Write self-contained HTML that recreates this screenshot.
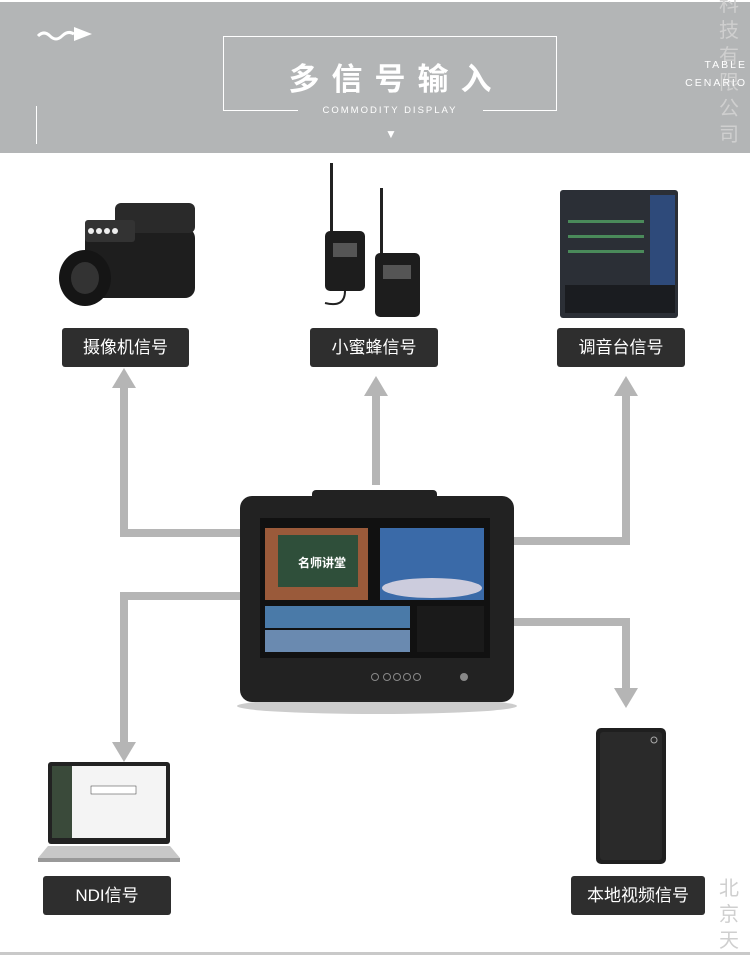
<!DOCTYPE html>
<html><head><meta charset="utf-8"><style>
*{margin:0;padding:0;box-sizing:border-box}
body{width:750px;height:955px;background:#fff;position:relative;overflow:hidden;font-family:"Liberation Sans","Noto Sans CJK SC",sans-serif}
.hdr{position:absolute;left:0;top:2px;width:750px;height:151px;background:#b3b5b6}
.a{position:absolute;background:#b5b5b5}
.lab{position:absolute;height:39px;background:#2e2e2e;color:#fff;font-size:17px;line-height:39px;text-align:center;border-radius:3px}
.wm{position:absolute;color:#cfcfcf;font-size:20px;width:30px;text-align:center}
</style></head><body>
<div class="hdr"></div>
<svg style="position:absolute;left:36px;top:24px" width="60" height="20"><path d="M2 12 Q8 6 14 12 T26 12 T38 10" stroke="#fff" stroke-width="3" fill="none"/><polygon points="38,3 56,10 38,17" fill="#fff"/></svg>
<div style="position:absolute;left:36px;top:106px;width:1px;height:38px;background:#fff"></div>
<div style="position:absolute;left:223px;top:36px;width:334px;height:75px;border:1px solid #fff;border-bottom:none"></div>
<div style="position:absolute;left:223px;top:110px;width:75px;height:1px;background:#fff"></div>
<div style="position:absolute;left:483px;top:110px;width:74px;height:1px;background:#fff"></div>
<div style="position:absolute;left:223px;top:54px;width:346px;text-align:center;color:#fff;font-size:31px;font-weight:bold;letter-spacing:12px">多信号输入</div>
<div style="position:absolute;left:223px;top:105px;width:334px;text-align:center;color:#fff;font-size:9.5px;letter-spacing:2px">COMMODITY DISPLAY</div>
<div style="position:absolute;left:385px;top:127px;color:#fff;font-size:12px">▼</div>
<div class="wm" style="left:714px;top:-8px;line-height:26px">科<br>技<br>有<br>限<br>公<br>司</div>
<div style="position:absolute;left:680px;top:56px;width:67px;text-align:right;color:#fff;font-size:10.5px;letter-spacing:2px;line-height:18px">TABLE<br>CENARIO</div>
<div class="wm" style="left:714px;top:876px;line-height:26px">北<br>京<br>天</div>
<div style="position:absolute;left:0;top:952px;width:750px;height:3px;background:#c9c9c9"></div>

<!-- arrows -->
<div class="a" style="left:120px;top:385px;width:8px;height:152px"></div>
<div class="a" style="left:120px;top:529px;width:120px;height:8px"></div>
<svg style="position:absolute;left:112px;top:368px" width="24" height="20"><polygon points="12,0 24,20 0,20" fill="#b5b5b5"/></svg>
<div class="a" style="left:372px;top:394px;width:8px;height:91px"></div>
<svg style="position:absolute;left:364px;top:376px" width="24" height="20"><polygon points="12,0 24,20 0,20" fill="#b5b5b5"/></svg>
<div class="a" style="left:622px;top:394px;width:8px;height:151px"></div>
<div class="a" style="left:508px;top:537px;width:122px;height:8px"></div>
<svg style="position:absolute;left:614px;top:376px" width="24" height="20"><polygon points="12,0 24,20 0,20" fill="#b5b5b5"/></svg>
<div class="a" style="left:120px;top:592px;width:122px;height:8px"></div>
<div class="a" style="left:120px;top:592px;width:8px;height:152px"></div>
<svg style="position:absolute;left:112px;top:742px" width="24" height="20"><polygon points="0,0 24,0 12,20" fill="#b5b5b5"/></svg>
<div class="a" style="left:508px;top:618px;width:122px;height:8px"></div>
<div class="a" style="left:622px;top:618px;width:8px;height:72px"></div>
<svg style="position:absolute;left:614px;top:688px" width="24" height="20"><polygon points="0,0 24,0 12,20" fill="#b5b5b5"/></svg>

<!-- labels -->
<div class="lab" style="left:62px;top:328px;width:127px">摄像机信号</div>
<div class="lab" style="left:310px;top:328px;width:128px">小蜜蜂信号</div>
<div class="lab" style="left:557px;top:328px;width:128px">调音台信号</div>
<div class="lab" style="left:43px;top:876px;width:128px">NDI信号</div>
<div class="lab" style="left:571px;top:876px;width:134px">本地视频信号</div>

<!-- camera -->
<svg style="position:absolute;left:55px;top:198px" width="150" height="115">
<rect x="30" y="30" width="110" height="70" rx="10" fill="#1e1e1e"/>
<rect x="60" y="5" width="80" height="30" rx="6" fill="#2a2a2a"/>
<rect x="30" y="22" width="50" height="22" rx="3" fill="#333"/>
<circle cx="36" cy="33" r="3" fill="#eee"/><circle cx="44" cy="33" r="3" fill="#eee"/><circle cx="52" cy="33" r="3" fill="#eee"/><circle cx="60" cy="33" r="3" fill="#eee"/>
<ellipse cx="30" cy="80" rx="26" ry="28" fill="#151515"/>
<ellipse cx="30" cy="80" rx="14" ry="16" fill="#333"/>
</svg>
<!-- mics -->
<svg style="position:absolute;left:315px;top:163px" width="110" height="160">
<rect x="15" y="0" width="3" height="70" fill="#222"/><rect x="65" y="25" width="3" height="70" fill="#222"/>
<rect x="10" y="68" width="40" height="60" rx="5" fill="#1d1d1d"/><rect x="18" y="80" width="24" height="14" fill="#555"/>
<rect x="60" y="90" width="45" height="64" rx="5" fill="#1d1d1d"/><rect x="68" y="102" width="28" height="14" fill="#555"/>
<path d="M30 128 Q30 145 10 140" stroke="#222" stroke-width="2" fill="none"/>
</svg>
<!-- mixer -->
<svg style="position:absolute;left:560px;top:190px" width="120" height="130">
<rect x="0" y="0" width="118" height="128" rx="3" fill="#2b2f36"/>
<rect x="90" y="5" width="25" height="90" fill="#2e4a7a"/>
<g fill="#4a8a5a"><rect x="8" y="30" width="76" height="3"/><rect x="8" y="45" width="76" height="3"/><rect x="8" y="60" width="76" height="3"/></g>
<rect x="5" y="95" width="110" height="28" fill="#1a1c20"/>
</svg>
<!-- device -->
<svg style="position:absolute;left:232px;top:488px" width="290" height="230">
<ellipse cx="145" cy="218" rx="140" ry="8" fill="#ccc"/>
<rect x="80" y="2" width="125" height="14" rx="4" fill="#222"/>
<rect x="8" y="8" width="274" height="206" rx="12" fill="#222"/>
<rect x="28" y="30" width="230" height="140" fill="#111"/>
<rect x="33" y="40" width="103" height="72" fill="#9a5a3a"/>
<rect x="46" y="47" width="80" height="52" fill="#2f4f3a"/>
<text x="90" y="79" font-size="12" fill="#fff" font-weight="bold" text-anchor="middle" font-family="Noto Sans CJK SC">名师讲堂</text>
<rect x="148" y="40" width="104" height="72" fill="#3a6aa8"/>
<ellipse cx="200" cy="100" rx="50" ry="10" fill="#ccd"/>
<rect x="33" y="118" width="145" height="22" fill="#4a7aa8"/>
<rect x="33" y="142" width="145" height="22" fill="#6a8ab0"/>
<rect x="185" y="118" width="67" height="46" fill="#1a1a1a"/>
<g fill="none" stroke="#888" stroke-width="1"><circle cx="143" cy="189" r="3.5"/><circle cx="155" cy="189" r="3.5"/><circle cx="165" cy="189" r="3.5"/><circle cx="175" cy="189" r="3.5"/><circle cx="185" cy="189" r="3.5"/></g>
<circle cx="232" cy="189" r="4" fill="#888"/>
</svg>
<!-- laptop -->
<svg style="position:absolute;left:36px;top:762px" width="146" height="104">
<rect x="12" y="0" width="122" height="82" rx="3" fill="#222"/>
<rect x="16" y="4" width="114" height="72" fill="#f4f4f4"/>
<rect x="16" y="4" width="20" height="72" fill="#3a4a3a"/>
<rect x="55" y="24" width="45" height="8" fill="#fff" stroke="#333" stroke-width="0.5"/>
<path d="M2 96 L12 84 L134 84 L144 96 Z" fill="#c8c8c8"/>
<rect x="2" y="96" width="142" height="4" fill="#999"/>
</svg>
<!-- hdd -->
<svg style="position:absolute;left:594px;top:726px" width="76" height="140">
<rect x="2" y="2" width="70" height="136" rx="5" fill="#1f1f1f"/>
<rect x="6" y="6" width="62" height="128" rx="3" fill="#2a2a2a"/>
<circle cx="60" cy="14" r="3" fill="none" stroke="#aaa"/>
</svg>
</body></html>
